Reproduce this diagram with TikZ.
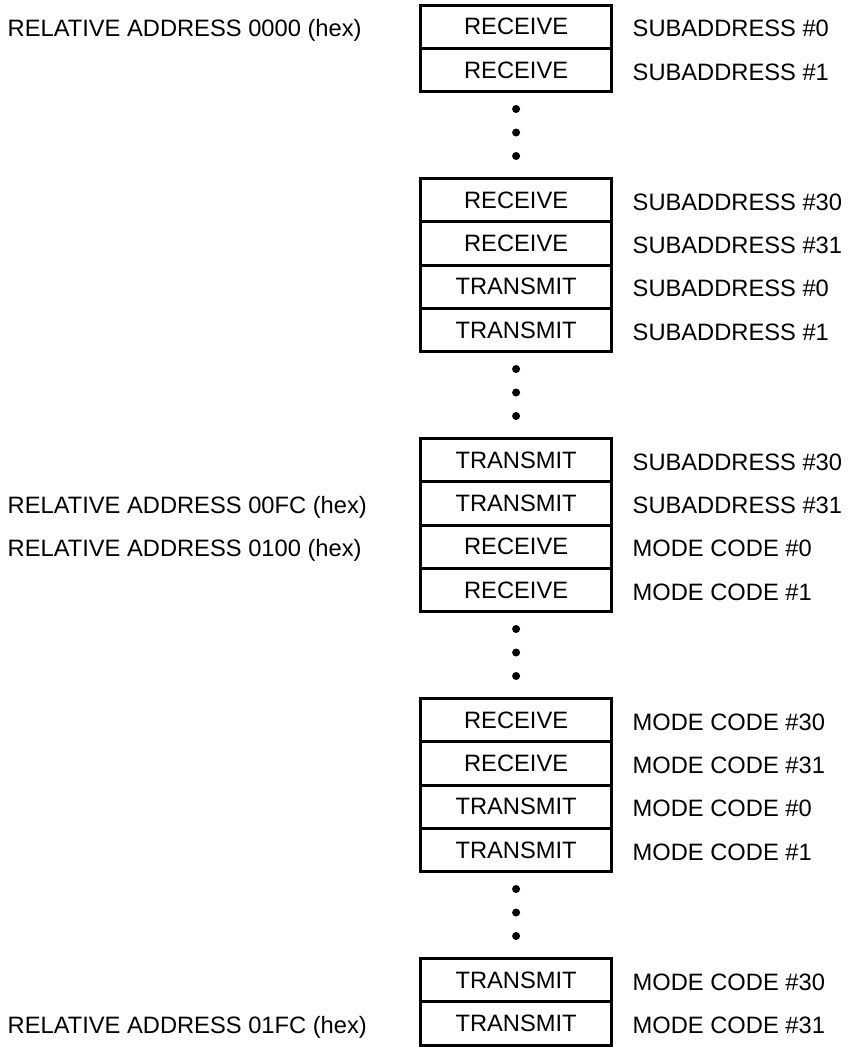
\documentclass[tikz,border=0pt]{standalone}
\usepackage{fontspec}
\setmainfont{Liberation Sans}

\tikzset{
	slot/.style={draw, line width=3pt, minimum width=191.2pt, minimum height=43.33pt, inner sep=0pt},
	lbl/.style={anchor=base west, inner sep=0pt},
	gapdot/.style={circle, fill, inner sep=0pt, minimum size=8pt}
}

\begin{document}
\begin{tikzpicture}[x=1pt, y=-1pt, font=\fontsize{23.7}{28}\selectfont]
	\useasboundingbox (0,0) rectangle (849,1047);
	% subaddress, receive
	\node [slot] (s1) at (516.1,26.67) {RECEIVE};
	\node [slot] (s2) at (516.1,70) {RECEIVE};
	\node [gapdot] (d1) at (516.1,109) {};
	\node [gapdot] (d2) at (516.1,132.5) {};
	\node [gapdot] (d3) at (516.1,156) {};
	\node [slot] (s3) at (516.1,200) {RECEIVE};
	\node [slot] (s4) at (516.1,243.33) {RECEIVE};
	% subaddress, transmit
	\node [slot] (s5) at (516.1,286.67) {TRANSMIT};
	\node [slot] (s6) at (516.1,330) {TRANSMIT};
	\node [gapdot] (d4) at (516.1,369) {};
	\node [gapdot] (d5) at (516.1,392.5) {};
	\node [gapdot] (d6) at (516.1,416) {};
	\node [slot] (s7) at (516.1,460) {TRANSMIT};
	\node [slot] (s8) at (516.1,503.33) {TRANSMIT};
	% mode code, receive
	\node [slot] (s9) at (516.1,546.67) {RECEIVE};
	\node [slot] (s10) at (516.1,590) {RECEIVE};
	\node [gapdot] (d7) at (516.1,629) {};
	\node [gapdot] (d8) at (516.1,652.5) {};
	\node [gapdot] (d9) at (516.1,676) {};
	\node [slot] (s11) at (516.1,720) {RECEIVE};
	\node [slot] (s12) at (516.1,763.33) {RECEIVE};
	% mode code, transmit
	\node [slot] (s13) at (516.1,806.67) {TRANSMIT};
	\node [slot] (s14) at (516.1,850) {TRANSMIT};
	\node [gapdot] (d10) at (516.1,889) {};
	\node [gapdot] (d11) at (516.1,912.5) {};
	\node [gapdot] (d12) at (516.1,936) {};
	\node [slot] (s15) at (516.1,980) {TRANSMIT};
	\node [slot] (s16) at (516.1,1023.33) {TRANSMIT};

	% relative addresses
	\node [lbl] (a1) at (7.5,36.67) {RELATIVE ADDRESS 0000 (hex)};
	\node [lbl] (a2) at (7.5,513.33) {RELATIVE ADDRESS 00FC (hex)};
	\node [lbl] (a3) at (7.5,556.67) {RELATIVE ADDRESS 0100 (hex)};
	\node [lbl] (a4) at (7.5,1033.33) {RELATIVE ADDRESS 01FC (hex)};

	% names on the right
	\node [lbl] (n1) at (632.5,36.67) {SUBADDRESS \#0};
	\node [lbl] (n2) at (632.5,80) {SUBADDRESS \#1};
	\node [lbl] (n3) at (632.5,210) {SUBADDRESS \#30};
	\node [lbl] (n4) at (632.5,253.33) {SUBADDRESS \#31};
	\node [lbl] (n5) at (632.5,296.67) {SUBADDRESS \#0};
	\node [lbl] (n6) at (632.5,340) {SUBADDRESS \#1};
	\node [lbl] (n7) at (632.5,470) {SUBADDRESS \#30};
	\node [lbl] (n8) at (632.5,513.33) {SUBADDRESS \#31};
	\node [lbl] (n9) at (632.5,556.67) {MODE CODE \#0};
	\node [lbl] (n10) at (632.5,600) {MODE CODE \#1};
	\node [lbl] (n11) at (632.5,730) {MODE CODE \#30};
	\node [lbl] (n12) at (632.5,773.33) {MODE CODE \#31};
	\node [lbl] (n13) at (632.5,816.67) {MODE CODE \#0};
	\node [lbl] (n14) at (632.5,860) {MODE CODE \#1};
	\node [lbl] (n15) at (632.5,990) {MODE CODE \#30};
	\node [lbl] (n16) at (632.5,1033.33) {MODE CODE \#31};
\end{tikzpicture}
\end{document}
